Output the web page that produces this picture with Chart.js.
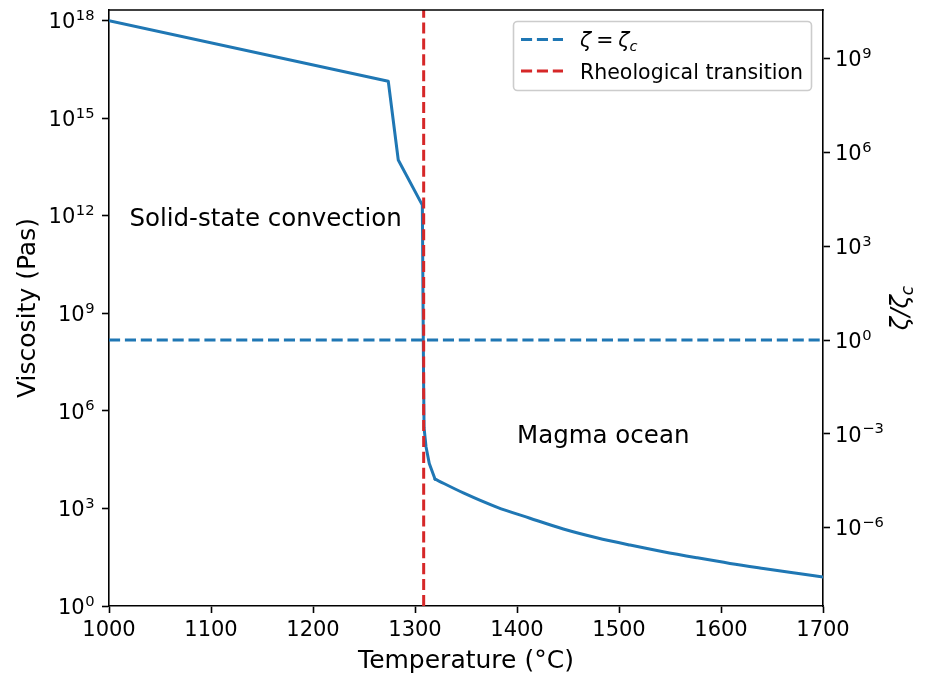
<!DOCTYPE html>
<html>
<head>
<meta charset="utf-8">
<script src="https://cdn.jsdelivr.net/npm/chart.js@4.4.1/dist/chart.umd.min.js"></script>
<style>
  html, body { margin: 0; padding: 0; background: #fff; }
  #wrap { width: 926px; height: 676px; }
</style>
</head>
<body>
<div id="wrap"><canvas id="c" width="926" height="676"></canvas></div>
<script>
// ---- data ----
const temperature = [1000, 1273.8, 1283.6, 1307.2, 1308.4, 1308.9, 1310.8, 1314, 1319.6,
                     1347.4, 1380.1, 1412.7, 1445.4, 1478.1, 1510.8, 1543.4, 1576.2,
                     1608.8, 1641.5, 1674.2, 1700];
const viscosity   = [1e18, 1.38e16, 5.2e13, 2.14e12, 1e7, 3e5, 7.9e4, 2.4e4, 8.0e3,
                     3.0e3, 1.1e3, 501, 234, 126, 75, 46.8, 30.5,
                     20.4, 14.3, 10.2, 7.85];
const magmaStartT = 1319.6;   // start of the smooth magma-ocean branch
const zetaT = [1000, 1700];
const zetaRatio = [1, 1];
const transitionT = [1308.5, 1308.5];
const transitionEta = [1, 2.14e18];
const xTicks = [1000, 1100, 1200, 1300, 1400, 1500, 1600, 1700];
const leftTicks = [1e0, 1e3, 1e6, 1e9, 1e12, 1e15, 1e18];
const rightTicks = [1e-6, 1e-3, 1e0, 1e3, 1e6, 1e9];
const leftRange = [1, 2.14e18];
const rightRange = [3.16e-9, 3.55e10];
const annotations = [
  { text: 'Solid-state convection', T: 1020, eta: 5e11 },
  { text: 'Magma ocean', T: 1400, eta: 1e5 }
];
const legendLabels = ['ζ = ζc', 'Rheological transition'];

const BLUE = '#1f77b4', RED = '#d62728';
const FONT = "'DejaVu Sans', 'Liberation Sans', sans-serif";
const DASH = [11.1, 4.8];

const tickGrid = { display: true, drawOnChartArea: false, drawTicks: true, tickLength: 7, tickWidth: 1.6, tickColor: '#000' };
const border = { display: true, color: '#000', width: 1.6 };

const pts = temperature.map((t, i) => ({ x: t, y: viscosity[i] }));
const upperBranch = pts.filter(p => p.x <= magmaStartT);
const magmaBranch = pts.filter(p => p.x >= magmaStartT);

function expText(v) {
  const e = Math.round(Math.log10(v));
  return (e < 0 ? '\u2212' : '') + String(Math.abs(e));
}

function drawPowLabels(ctx, scale, side) {
  const main = '21px ' + FONT, sup = '14.7px ' + FONT;
  ctx.fillStyle = '#000';
  ctx.textBaseline = 'alphabetic';
  ctx.textAlign = 'left';
  scale.ticks.forEach(t => {
    const y = scale.getPixelForValue(t.value);
    const ex = expText(t.value);
    ctx.font = main; const w1 = ctx.measureText('10').width;
    ctx.font = sup; const w2 = ctx.measureText(ex).width;
    const x0 = side === 'left' ? 94 - (w1 + w2) : 835;
    ctx.font = main; ctx.fillText('10', x0, y + 7.6);
    ctx.font = sup; ctx.fillText(ex, x0 + w1 + 0.5, y - 0.5);
  });
}

const framePlugin = {
  id: 'frame',
  afterDraw(chart) {
    const { ctx, chartArea: a, scales } = chart;
    ctx.save();
    // top spine
    ctx.strokeStyle = '#000'; ctx.lineWidth = 1.6;
    ctx.beginPath(); ctx.moveTo(a.left - 0.8, a.top); ctx.lineTo(a.right + 0.8, a.top); ctx.stroke();

    // log-axis tick labels 10^n
    drawPowLabels(ctx, scales.y, 'left');
    drawPowLabels(ctx, scales.y2, 'right');

    // annotations
    ctx.fillStyle = '#000';
    ctx.font = '24.5px ' + FONT;
    ctx.textAlign = 'left'; ctx.textBaseline = 'alphabetic';
    annotations.forEach(an => {
      ctx.fillText(an.text, scales.x.getPixelForValue(an.T), scales.y.getPixelForValue(an.eta));
    });

    // right axis title  ζ/ζc
    ctx.save();
    ctx.translate(908, (a.top + a.bottom) / 2);
    ctx.rotate(-Math.PI / 2);
    const big = 'italic 24.5px ' + FONT, small = 'italic 17px ' + FONT;
    ctx.font = big; const w1 = ctx.measureText('ζ/ζ').width;
    ctx.font = small; const w2 = ctx.measureText('c').width;
    const x0 = -(w1 + w2) / 2;
    ctx.font = big; ctx.fillText('ζ/ζ', x0, 0);
    ctx.font = small; ctx.fillText('c', x0 + w1, 5);
    ctx.restore();

    // legend
    const lx = 513.5, ly = 21.5, lw = 298, lh = 69, r = 4;
    ctx.beginPath();
    ctx.moveTo(lx + r, ly); ctx.lineTo(lx + lw - r, ly); ctx.arcTo(lx + lw, ly, lx + lw, ly + r, r);
    ctx.lineTo(lx + lw, ly + lh - r); ctx.arcTo(lx + lw, ly + lh, lx + lw - r, ly + lh, r);
    ctx.lineTo(lx + r, ly + lh); ctx.arcTo(lx, ly + lh, lx, ly + lh - r, r);
    ctx.lineTo(lx, ly + r); ctx.arcTo(lx, ly, lx + r, ly, r);
    ctx.closePath();
    ctx.fillStyle = 'rgba(255,255,255,0.8)'; ctx.fill();
    ctx.strokeStyle = '#cccccc'; ctx.lineWidth = 1.6; ctx.stroke();

    const rows = [{ y: 39.5, color: BLUE }, { y: 71, color: RED }];
    rows.forEach(rw => {
      ctx.setLineDash(DASH); ctx.strokeStyle = rw.color; ctx.lineWidth = 3;
      ctx.beginPath(); ctx.moveTo(521, rw.y); ctx.lineTo(563, rw.y); ctx.stroke();
    });
    ctx.setLineDash([]);
    ctx.fillStyle = '#000';
    // row 1 : ζ = ζc (math italic)
    let tx = 580;
    ctx.font = 'italic 20.5px ' + FONT; ctx.fillText('ζ', tx, 47); tx += ctx.measureText('ζ').width + 5;
    ctx.font = '20.5px ' + FONT; ctx.fillText('=', tx, 47); tx += ctx.measureText('=').width + 5;
    ctx.font = 'italic 20.5px ' + FONT; ctx.fillText('ζ', tx, 47); tx += ctx.measureText('ζ').width;
    ctx.font = 'italic 14.5px ' + FONT; ctx.fillText('c', tx, 51);
    // row 2
    ctx.font = '20.5px ' + FONT; ctx.fillText(legendLabels[1], 580, 79);
    ctx.restore();
  }
};

new Chart(document.getElementById('c'), {
  type: 'line',
  data: {
    datasets: [
      { label: legendLabels[1], data: transitionT.map((t, i) => ({ x: t, y: transitionEta[i] })),
        yAxisID: 'y', borderColor: RED, borderWidth: 3, borderDash: DASH, pointRadius: 0, order: 0 },
      { label: legendLabels[0], data: zetaT.map((t, i) => ({ x: t, y: zetaRatio[i] })),
        yAxisID: 'y2', borderColor: BLUE, borderWidth: 3, borderDash: DASH, pointRadius: 0, order: 1 },
      { label: 'Viscosity', data: upperBranch,
        yAxisID: 'y', borderColor: BLUE, borderWidth: 3, pointRadius: 0, tension: 0, order: 2,
        borderJoinStyle: 'round', borderCapStyle: 'round' },
      { label: 'Viscosity (magma)', data: magmaBranch,
        yAxisID: 'y', borderColor: BLUE, borderWidth: 3, pointRadius: 0, cubicInterpolationMode: 'monotone', order: 2,
        borderJoinStyle: 'round', borderCapStyle: 'round' }
    ]
  },
  options: {
    responsive: false,
    animation: false,
    devicePixelRatio: 1,
    layout: { padding: { top: 10, left: 0, right: 0, bottom: 0 } },
    plugins: { legend: { display: false }, tooltip: { enabled: false } },
    scales: {
      x: {
        type: 'linear', position: 'bottom', min: 1000, max: 1700,
        afterBuildTicks: s => { s.ticks = xTicks.map(v => ({ value: v })); },
        afterFit: s => { s.height = 70; },
        ticks: { color: '#000', font: { family: FONT, size: 21 }, padding: 5, maxRotation: 0, autoSkip: false,
                 callback: v => String(v) },
        grid: tickGrid, border: border,
        title: { display: true, text: 'Temperature (°C)', color: '#000', font: { family: FONT, size: 25 },
                 padding: { top: 0, bottom: 0 } }
      },
      y: {
        type: 'logarithmic', position: 'left', min: leftRange[0], max: leftRange[1],
        afterBuildTicks: s => { s.ticks = leftTicks.map(v => ({ value: v })); },
        afterFit: s => { s.width = 109; s.paddingTop = 0; s.paddingBottom = 0; },
        ticks: { display: false, autoSkip: false },
        grid: tickGrid, border: border,
        title: { display: true, text: 'Viscosity (Pas)', color: '#000', font: { family: FONT, size: 25 },
                 padding: { top: 13, bottom: 0 } }
      },
      y2: {
        type: 'logarithmic', position: 'right', min: rightRange[0], max: rightRange[1],
        afterBuildTicks: s => { s.ticks = rightTicks.map(v => ({ value: v })); },
        afterFit: s => { s.width = 103; s.paddingTop = 0; s.paddingBottom = 0; },
        ticks: { display: false, autoSkip: false },
        grid: tickGrid, border: border
      }
    }
  },
  plugins: [framePlugin]
});
</script>
</body>
</html>
